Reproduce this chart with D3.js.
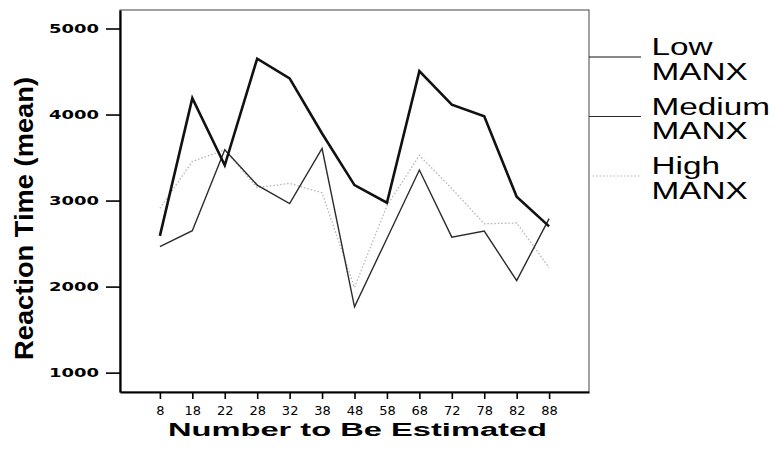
<!DOCTYPE html>
<html>
<head>
<meta charset="utf-8">
<script src="https://cdn.jsdelivr.net/npm/d3@7"></script>
<style>
  html, body { margin: 0; padding: 0; background: #fff; }
  svg { display: block; }
</style>
</head>
<body>
<svg id="chart" width="778" height="463"></svg>
<script>
// Mean reaction time by number to be estimated, one line per MANX group
const categories = ["8", "18", "22", "28", "32", "38", "48", "58", "68", "72", "78", "82", "88"];
const lowManx    = [2590, 4190, 3410, 4650, 4420, 3780, 3180, 2975, 4505, 4115, 3980, 3045, 2700];
const mediumManx = [2465, 2650, 3590, 3180, 2965, 3605, 1765, 2560, 3355, 2575, 2645, 2070, 2790];
const highManx   = [2910, 3455, 3590, 3150, 3200, 3090, 1990, 2940, 3525, 3140, 2730, 2740, 2220];
const yTicks = [1000, 2000, 3000, 4000, 5000];
const seriesNames = [["Low", "MANX"], ["Medium", "MANX"], ["High", "MANX"]];

const series = [
  { name: seriesNames[0], values: lowManx,    color: "#111", width: 2.6, dash: null,  legendWidth: 1.2 },
  { name: seriesNames[1], values: mediumManx, color: "#2b2b2b", width: 1.4, dash: null, legendWidth: 1.1 },
  { name: seriesNames[2], values: highManx,   color: "#b5b5b5", width: 1.3, dash: "1.5,2", legendWidth: 1.1 }
];

const svg = d3.select("#chart");
const plot = { left: 120, right: 589, top: 10, bottom: 392 };

const x = d3.scalePoint()
  .domain(categories)
  .range([plot.left, plot.right])
  .padding(1.23);

const y = d3.scaleLinear()
  .domain([775, 5215])
  .range([plot.bottom, plot.top]);

// plot frame
svg.append("rect")
  .attr("x", plot.left).attr("y", plot.top)
  .attr("width", plot.right - plot.left).attr("height", plot.bottom - plot.top)
  .attr("fill", "none").attr("stroke", "#444").attr("stroke-width", 1);

// y axis
const yAxis = svg.append("g")
  .attr("transform", `translate(${plot.left},0)`)
  .call(d3.axisLeft(y).tickValues(yTicks).tickFormat(d3.format("d"))
    .tickSize(14).tickPadding(7).tickSizeOuter(0));
yAxis.select(".domain").attr("stroke", "#000").attr("stroke-width", 2.2);
yAxis.selectAll(".tick line").attr("stroke", "#000").attr("stroke-width", 1.6);
yAxis.selectAll(".tick text")
  .attr("font-family", "DejaVu Sans").attr("font-size", 13).attr("font-weight", "bold")
  .attr("fill", "#000")
  .attr("textLength", 50).attr("lengthAdjust", "spacingAndGlyphs");

// x axis
const xAxis = svg.append("g")
  .attr("transform", `translate(0,${plot.bottom})`)
  .call(d3.axisBottom(x).tickSize(7).tickPadding(7).tickSizeOuter(0));
xAxis.select(".domain").attr("stroke", "#000").attr("stroke-width", 2.2);
xAxis.selectAll(".tick line").attr("stroke", "#000").attr("stroke-width", 1.6);
xAxis.selectAll(".tick text")
  .attr("font-family", "DejaVu Sans").attr("font-size", 13)
  .attr("fill", "#000");

// axis titles
svg.append("text")
  .attr("transform", "translate(33,218.5) rotate(-90)")
  .attr("text-anchor", "middle")
  .attr("font-family", "Liberation Sans").attr("font-weight", "bold").attr("font-size", 25)
  .attr("textLength", 283).attr("lengthAdjust", "spacingAndGlyphs")
  .text("Reaction Time (mean)");

svg.append("text")
  .attr("x", 168).attr("y", 436)
  .attr("font-family", "Liberation Sans").attr("font-weight", "bold").attr("font-size", 17.5)
  .attr("textLength", 379).attr("lengthAdjust", "spacingAndGlyphs")
  .text("Number to Be Estimated");

// series lines
const line = d3.line()
  .x((d, i) => x(categories[i]))
  .y(d => y(d));

series.slice().reverse().forEach(s => {
  svg.append("path")
    .datum(s.values)
    .attr("d", line)
    .attr("fill", "none")
    .attr("stroke", s.color)
    .attr("stroke-width", s.width)
    .attr("stroke-linejoin", "miter")
    .attr("stroke-dasharray", s.dash);
});

// legend
const legend = svg.append("g");
const legendTop = 57, legendStep = 59.5;
series.forEach((s, i) => {
  const ly = legendTop + i * legendStep;
  legend.append("line")
    .attr("x1", plot.right).attr("x2", 641)
    .attr("y1", ly).attr("y2", ly)
    .attr("stroke", s.color).attr("stroke-width", s.legendWidth)
    .attr("stroke-dasharray", s.dash);
  s.name.forEach((word, j) => {
    legend.append("text")
      .attr("transform", `translate(651.5,${ly - 2 + j * 24.5}) scale(1.36,1)`)
      .attr("font-family", "Liberation Sans").attr("font-size", 24.5)
      .attr("fill", "#000")
      .text(word);
  });
});
</script>
</body>
</html>
